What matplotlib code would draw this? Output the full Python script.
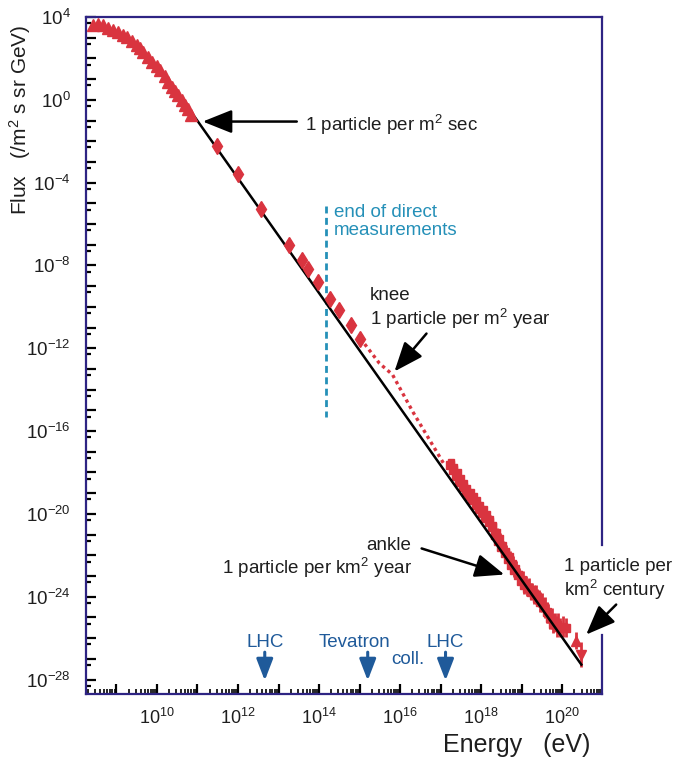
import matplotlib
matplotlib.use('Agg')
import matplotlib.pyplot as plt
import numpy as np
from matplotlib.ticker import FixedLocator, LogLocator, FuncFormatter, NullFormatter

# ---------------- data (log10 values) ----------------
tri_logE = [8.43, 8.55, 8.68, 8.80, 8.92, 9.05, 9.17, 9.25, 9.38, 9.50, 9.58, 9.66,
            9.79, 9.87, 9.99, 10.07, 10.20, 10.28, 10.36, 10.44, 10.52, 10.61, 10.69,
            10.77, 10.85]
tri_logF = [3.62, 3.65, 3.59, 3.49, 3.38, 3.27, 3.14, 3.01, 2.85, 2.66, 2.50, 2.33,
            2.09, 1.85, 1.61, 1.42, 1.13, 0.88, 0.64, 0.43, 0.24, 0.00, -0.24,
            -0.43, -0.72]

dia_logE = [11.48, 12.00, 12.56, 13.25, 13.57, 13.72, 13.97, 14.26, 14.48, 14.78, 15.02]
dia_logF = [-2.21, -3.56, -5.25, -6.99, -7.76, -8.19, -8.82, -9.60, -10.17, -10.90, -11.53]

knee_logE = [15.02, 15.49, 15.81, 16.31, 16.72, 17.09]
knee_logF = [-11.53, -12.73, -13.27, -15.06, -16.41, -17.62]

uhe_logE = [17.22, 17.30, 17.38, 17.46, 17.54, 17.62, 17.70, 17.78, 17.86, 17.94,
            18.02, 18.10, 18.18, 18.26, 18.34, 18.42, 18.50, 18.58, 18.66, 18.74,
            18.82, 18.90, 18.98, 19.06, 19.14, 19.22, 19.30, 19.38, 19.46, 19.54,
            19.62, 19.70, 19.78, 19.86, 19.94, 20.02, 20.10]
uhe_logF = [-17.65, -17.90, -18.15, -18.45, -18.70, -18.95, -19.15, -19.35, -19.55, -19.75,
            -19.95, -20.20, -20.40, -20.65, -21.00, -21.30, -21.60, -21.90, -22.20, -22.45,
            -22.70, -22.95, -23.25, -23.45, -23.60, -23.75, -23.90, -24.05, -24.25, -24.50,
            -24.75, -25.05, -25.30, -25.45, -25.50, -25.45, -25.50]
uhe_err = [0.12, 0.12, 0.12, 0.15, 0.12, 0.15, 0.12, 0.15, 0.15, 0.18,
           0.15, 0.20, 0.18, 0.20, 0.22, 0.20, 0.28, 0.25, 0.35, 0.30,
           0.35, 0.40, 0.35, 0.40, 0.35, 0.40, 0.45, 0.40, 0.50, 0.45,
           0.50, 0.50, 0.45, 0.50, 0.45, 0.50, 0.45]

uhe2_logE = [17.26, 17.34, 17.42, 17.50, 17.58, 17.66, 17.74, 17.82, 17.90, 17.98,
             18.06, 18.14, 18.22, 18.30, 18.38, 18.46, 18.54, 18.62, 18.70, 18.78,
             18.86, 18.94, 19.02, 19.10, 19.18, 19.26, 19.34, 19.42, 19.50, 19.58,
             19.66, 19.74, 19.82, 19.90]
uhe2_logF = [-17.50, -17.75, -18.00, -18.28, -18.52, -18.75, -18.95, -19.15, -19.35, -19.55,
             -19.78, -20.00, -20.25, -20.55, -20.88, -21.18, -21.50, -21.80, -22.05, -22.35,
             -22.62, -22.92, -23.15, -23.35, -23.52, -23.68, -23.88, -24.08, -24.28, -24.52,
             -24.82, -25.05, -25.22, -25.30]
uhe2_err = [0.10, 0.12, 0.10, 0.12, 0.12, 0.10, 0.12, 0.12, 0.15, 0.12,
            0.15, 0.15, 0.18, 0.15, 0.20, 0.25, 0.20, 0.30, 0.25, 0.30,
            0.35, 0.30, 0.40, 0.35, 0.40, 0.35, 0.45, 0.40, 0.45, 0.50,
            0.45, 0.50, 0.45, 0.50]

up_logE, up_logF, up_err = [20.34], [-26.12], [0.40]
dn_logE, dn_logF, dn_err = [20.47], [-26.80], [0.60]

fit_logE = [10.89, 20.47]
fit_logF = [-0.71, -27.28]

direct_logE = 14.16
direct_logF = [-5.15, -15.30]

accel_names = ['LHC', 'Tevatron', 'LHC']
accel_logE = [12.66, 15.20, 17.12]

# ---------------- style ----------------
plt.rcParams['font.family'] = ['Liberation Sans', 'DejaVu Sans']
plt.rcParams['mathtext.fontset'] = 'custom'
plt.rcParams['mathtext.rm'] = 'Liberation Sans'
plt.rcParams['mathtext.it'] = 'Liberation Sans:italic'
plt.rcParams['mathtext.bf'] = 'Liberation Sans:bold'

RED = '#D9343F'
NAVY = '#2E2483'
BLUE = '#1F5A9A'
TEAL = '#2590B8'
TXT = '#1E1E1E'
FS = 13.5

fig = plt.figure(figsize=(6.81, 7.62), dpi=100)
ax = fig.add_axes([86/681, 1-694/762, (602-86)/681, (694-17)/762])
ax.set_xscale('log')
ax.set_yscale('log')
ax.set_xlim(10**8.25, 10**20.98)
ax.set_ylim(10**-28.7, 10**4.0)

p = lambda a: 10**np.asarray(a, dtype=float)

# straight fit line
ax.plot(p(fit_logE), p(fit_logF), color='black', lw=1.8, zorder=3)

# low-energy triangles
ax.plot(p(tri_logE), p(tri_logF), ls='none', marker='^', ms=8, color=RED, mec=RED, zorder=4)
# diamonds
ax.plot(p(dia_logE), p(dia_logF), ls='none', marker='d', ms=8, color=RED, mec=RED, zorder=4)
# knee region dotted
ax.plot(p(knee_logE), p(knee_logF), ls=(0, (1, 1.1)), lw=2.4, color=RED, zorder=2)

# UHE data with error bars
def eb(le, lf, er, marker, ms):
    F = p(lf)
    er = np.asarray(er)
    lo = F - F * 10**(-er)
    hi = F * 10**er - F
    ax.errorbar(p(le), F, yerr=[lo, hi], fmt=marker, ms=ms, color=RED, mec=RED,
                elinewidth=2.0, capsize=0, zorder=2)

eb(uhe_logE, uhe_logF, uhe_err, 's', 6)
eb(uhe2_logE, uhe2_logF, uhe2_err, 's', 5)
eb(up_logE, up_logF, up_err, '^', 7)
eb(dn_logE, dn_logF, dn_err, 'v', 7)

# end of direct measurements
ax.plot([10**direct_logE]*2, p(direct_logF), color=TEAL, lw=2, ls=(0, (2.5, 1.6)), zorder=1)

# ---------------- axes ----------------
for s in ['left', 'bottom', 'top']:
    ax.spines[s].set_color(NAVY)
    ax.spines[s].set_linewidth(1.6)
ax.spines['right'].set_visible(False)
for y0, y1 in [(0.0, 0.087), (0.22, 1.0)]:
    ax.plot([1, 1], [y0, y1], transform=ax.transAxes, color=NAVY, lw=1.6, clip_on=False)

ax.xaxis.set_major_locator(FixedLocator([10.0**k for k in range(8, 22)]))
ax.xaxis.set_minor_locator(LogLocator(base=10, subs=np.arange(2, 10), numticks=100))
ax.xaxis.set_major_formatter(FuncFormatter(
    lambda v, pos: f'$10^{{{int(round(np.log10(v)))}}}$' if int(round(np.log10(v))) % 2 == 0 else ''))
ax.xaxis.set_minor_formatter(NullFormatter())

ax.yaxis.set_major_locator(FixedLocator([10.0**k for k in range(-29, 5)]))
ax.yaxis.set_minor_locator(LogLocator(base=10, subs=(5.0,), numticks=100))
ax.yaxis.set_major_formatter(FuncFormatter(
    lambda v, pos: f'$10^{{{int(round(np.log10(v)))}}}$' if int(round(np.log10(v))) % 4 == 0 else ''))
ax.yaxis.set_minor_formatter(NullFormatter())

ax.tick_params(which='both', direction='in', top=False, right=False, color='black')
ax.tick_params(which='major', axis='x', length=7, width=1.6, labelsize=13, pad=10, labelcolor=TXT)
ax.tick_params(which='minor', axis='x', length=3.5, width=1.2)
ax.tick_params(which='major', axis='y', length=7, width=1.6, labelsize=13.5, pad=11, labelcolor=TXT)
ax.tick_params(which='minor', axis='y', length=3.5, width=1.6)

fig.text(517/681, 1-745/762, 'Energy   (eV)', ha='center', va='center', fontsize=18, color=TXT)
fig.text(20/681, 1-120/762, 'Flux   (/m$^2$ s sr GeV)', ha='center', va='center',
         rotation=90, fontsize=15, color=TXT)

# ---------------- annotations ----------------
arw = dict(arrowstyle='-|>,head_length=1.0,head_width=0.4', color='black', lw=1.8,
           mutation_scale=18, shrinkA=0, shrinkB=0)

ax.text(p(13.65), p(-1.19), '1 particle per m$^2$ sec', fontsize=FS, color=TXT,
        ha='left', va='center')
ax.annotate('', xy=(p(11.13), p(-1.05)), xytext=(p(13.45), p(-1.05)), arrowprops=arw)

ax.text(p(14.36), p(-5.89), 'end of direct\nmeasurements', fontsize=FS, color=TEAL,
        ha='left', va='center', linespacing=1.05)

ax.text(p(15.25), p(-10.11), 'knee\n1 particle per m$^2$ year', fontsize=FS, color=TXT,
        ha='left', va='center', linespacing=1.12)
ax.annotate('', xy=(p(15.86), p(-13.12)), xytext=(p(16.65), p(-11.29)), arrowprops=arw)

ax.text(p(16.28), p(-22.15), 'ankle\n1 particle per km$^2$ year', fontsize=FS, color=TXT,
        ha='right', va='center', multialignment='right', linespacing=1.12)
ax.annotate('', xy=(p(18.57), p(-22.93)), xytext=(p(16.53), p(-21.67)), arrowprops=arw)

ax.text(p(20.05), p(-23.2), '1 particle per\nkm$^2$ century', fontsize=FS, color=TXT,
        ha='left', va='center', linespacing=1.12, clip_on=False)
ax.annotate('', xy=(p(20.59), p(-25.83)), xytext=(p(21.33), p(-24.38)), arrowprops=arw,
            annotation_clip=False)

barw = dict(arrowstyle='-|>,head_length=1.3,head_width=0.5', color=BLUE, lw=2.2,
           mutation_scale=10, shrinkA=0, shrinkB=0)
for name, le in zip(accel_names, accel_logE):
    tx = le if name != 'Tevatron' else le - 0.32
    ax.text(p(tx), p(-26.2), name, fontsize=FS, color=BLUE, ha='center', va='center')
    ax.annotate('', xy=(p(le), p(-28.05)), xytext=(p(le), p(-26.68)), arrowprops=barw)
ax.text(p(16.20), p(-27.02), 'coll.', fontsize=FS, color=BLUE, ha='center', va='center')

fig.savefig('out.png', dpi=100)
